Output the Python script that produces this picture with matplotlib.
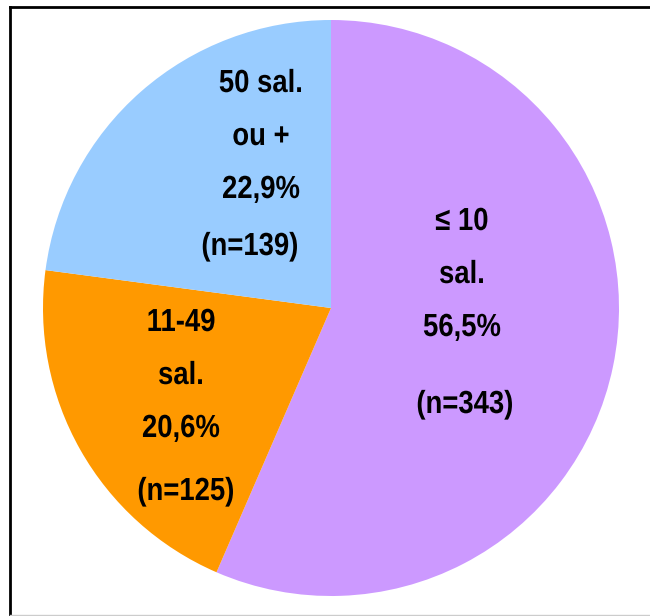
import matplotlib
matplotlib.use('Agg')
import matplotlib.pyplot as plt
from matplotlib.lines import Line2D
from matplotlib.patheffects import AbstractPathEffect
from matplotlib.transforms import Affine2D

# data
categories = ['≤ 10\nsal.', '11-49\nsal.', '50 sal.\nou +']
counts = [343, 125, 139]
percents = ['56,5%', '20,6%', '22,9%']
colors = ['#CC99FF', '#FF9900', '#99CCFF']


class Condense(AbstractPathEffect):
    # squeeze glyphs horizontally (no narrow bold font installed)
    def __init__(self, sx):
        super().__init__()
        self.sx = sx

    def draw_path(self, renderer, gc, tpath, affine, rgbFace=None):
        ext = tpath.get_extents()
        mid = (ext.x0 + ext.x1) / 2
        t = Affine2D().translate(-mid, 0).scale(self.sx, 1).translate(mid, 0) + affine
        renderer.draw_path(gc, tpath, t, rgbFace)


W, H = 650, 616
fig = plt.figure(figsize=(W / 100, H / 100), dpi=100)
fig.patch.set_facecolor('white')

cx, cy, r = 331, 308, 288
ax = fig.add_axes([(cx - r) / W, (H - cy - r) / H, 2 * r / W, 2 * r / H])
ax.pie(counts, colors=colors, startangle=90, counterclock=False, radius=1,
       wedgeprops=dict(linewidth=0))
ax.set_xlim(-1, 1)
ax.set_ylim(-1, 1)
ax.set_aspect('equal')
ax.axis('off')

font = dict(family=['Liberation Sans', 'DejaVu Sans'],
            fontweight='bold', fontsize=23, color='black',
            path_effects=[Condense(0.86)])

# label placement in pixels (top line y, x center, n line y, n x center)
pos = [(222, 462, 405, 465), (323, 181, 492, 186), (84, 261, 247, 250)]
step = 53


def to_data(px, py):
    return (px - cx) / r, (cy - py) / r


for cat, pct, n, (ty, tx, ny, nx) in zip(categories, percents, counts, pos):
    lines = cat.split('\n') + [pct]
    for i, s in enumerate(lines):
        x, y = to_data(tx, ty + i * step)
        ax.text(x, y, s, ha='center', va='center', **font)
    x, y = to_data(nx, ny)
    ax.text(x, y, '(n=%d)' % n, ha='center', va='center', **font)

# frame
fig.add_artist(Line2D([10 / W, 1], [1 - 7 / H, 1 - 7 / H], color='black', lw=2,
                      transform=fig.transFigure))
fig.add_artist(Line2D([10 / W, 10 / W], [0.5 / H, 1 - 7 / H], color='black', lw=2,
                      transform=fig.transFigure))
fig.add_artist(Line2D([10 / W, 1], [0.8 / H, 0.8 / H], color='#cccccc', lw=1,
                      transform=fig.transFigure))

fig.savefig('out.png', dpi=100)
